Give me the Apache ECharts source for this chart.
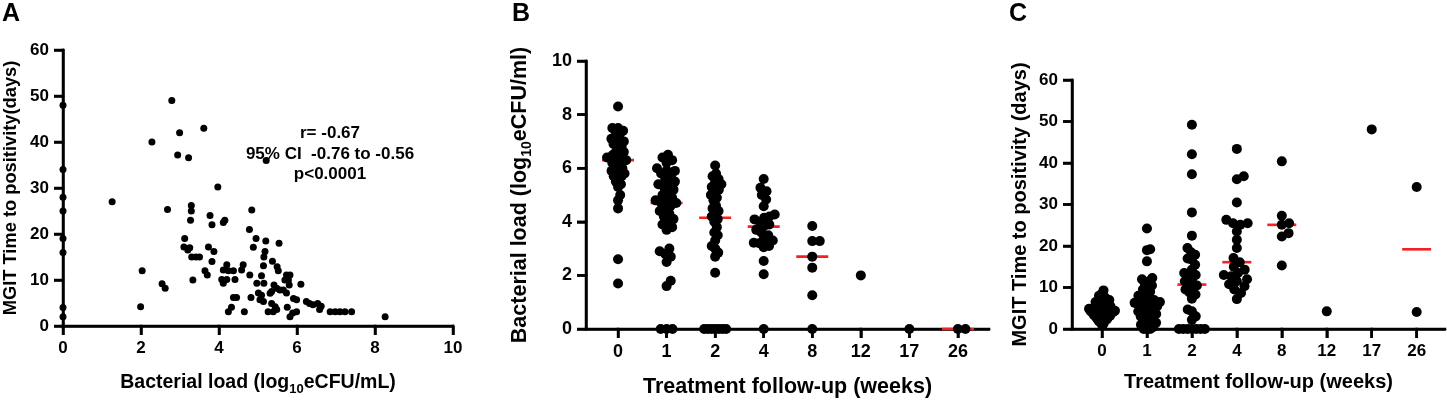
<!DOCTYPE html>
<html>
<head>
<meta charset="utf-8">
<script src="https://cdn.jsdelivr.net/npm/echarts@6/dist/echarts.min.js"></script>
<style>
  html, body { margin: 0; padding: 0; background: #fff; }
  #chart { width: 1447px; height: 403px; }
</style>
</head>
<body>
<div id="chart"></div>
<script>
// ---- data ----
const weeks = ['0', '1', '2', '4', '8', '12', '17', '26'];
const loadTicksA = [0, 2, 4, 6, 8, 10];
const loadTicksB = [0, 2, 4, 6, 8, 10];
const ttpTicks = [0, 10, 20, 30, 40, 50, 60];

// A: [bacterial load (log10 eCFU/mL), MGIT time to positivity (days)]
const loadVsTtp = [
  [0, 48], [0, 34], [0, 28], [0, 25], [0, 19], [0, 16], [0, 4], [0, 2],
  [1.26, 27], [2.79, 49], [2.28, 40], [2.99, 42], [2.94, 37.2], [3.22, 36.6], [3.61, 43], [5.21, 36],
  [3.97, 30.2], [2.68, 25.3], [3.29, 26.2], [3.29, 25], [3.27, 23], [3.77, 24], [3.82, 22], [4.11, 22.5],
  [4.15, 23], [4.84, 25.2], [3.12, 19], [3.1, 17.2], [3.2, 16.5], [3.25, 17], [3.3, 15], [3.41, 15],
  [3.5, 15], [3.73, 17.2], [3.87, 16.2], [3.82, 14], [3.64, 12], [3.7, 11.1], [3.33, 10], [2.03, 12],
  [1.99, 4.2], [2.54, 9.2], [2.62, 8.2], [4.78, 21], [4.95, 19], [4.88, 17.1], [5.2, 18.5], [5.54, 18],
  [5.18, 16.2], [5.15, 15], [5.37, 14.1], [5.49, 12.9], [5.52, 12], [5.14, 13.1], [4.2, 13.3], [4.11, 12.2],
  [4.24, 12], [4.37, 12], [4.58, 12.2], [4.62, 13.3], [4.07, 10.1], [4.2, 10.1], [4.11, 9.3], [4.41, 10.1],
  [4.79, 11.1], [5.09, 10.9], [4.97, 9.3], [5.15, 9.3], [5.73, 11.1], [5.82, 11.1], [5.69, 10], [5.78, 10],
  [5.8, 8.9], [6.1, 9.1], [5.41, 8.9], [5.48, 8.2], [5.56, 7.8], [5.35, 7.5], [5.31, 7.1], [5.01, 7.2],
  [5.09, 6.7], [5.05, 5.7], [5.14, 5.3], [5.65, 7.8], [5.73, 7.2], [4.82, 6.2], [4.37, 6.2], [4.45, 6.2],
  [4.32, 4.1], [4.24, 3.1], [4.65, 3.1], [5.35, 4.9], [5.44, 4.2], [5.48, 3.6], [5.26, 3.1], [5.39, 3.1],
  [5.75, 4.1], [5.82, 2], [5.89, 2.8], [5.99, 3.1], [5.91, 6], [5.99, 5.7], [6.24, 5.3], [6.32, 4.9],
  [6.41, 4.6], [6.53, 4.9], [6.62, 4.3], [6.58, 3.6], [6.85, 3.1], [6.98, 3.1], [7.1, 3.1], [7.23, 3.1],
  [7.4, 3.1], [8.26, 2]
];
const statLines = ['r= -0.67', '95% CI  -0.76 to -0.56', 'p<0.0001'];

// B: bacterial load per follow-up week
const loadW0 = [8.3, 7.5, 7.5, 7.4, 7.4, 7.3, 7.2, 7.1, 7.0, 7.0, 6.9, 6.9, 6.8, 6.7, 6.6, 6.6, 6.5, 6.5, 6.4, 6.4, 6.4, 6.3,
  6.3, 6.3, 6.2, 6.2, 6.1, 6.0, 6.0, 5.9, 5.9, 5.8, 5.8, 5.7, 5.7, 5.6, 5.5, 5.4, 5.3, 5.0, 4.8, 4.5, 2.6, 1.7];
const loadW1 = [6.5, 6.4, 6.3, 6.2, 6.0, 5.9, 5.9, 5.8, 5.7, 5.6, 5.5, 5.4, 5.4, 5.3, 5.2, 5.1, 5.0, 4.9, 4.8, 4.8, 4.7,
  4.7, 4.6, 4.5, 4.4, 4.3, 4.2, 4.1, 4.0, 3.9, 3.8, 3.7, 3.0, 2.9, 2.8, 2.7, 2.5, 1.8, 1.6, 0, 0, 0];
const loadW2 = [6.1, 5.8, 5.7, 5.6, 5.5, 5.4, 5.3, 5.2, 5.2, 5.0, 4.9, 4.8, 4.6, 4.5, 4.4, 4.3, 4.2, 4.1, 4.0, 3.8, 3.6,
  3.5, 3.3, 3.1, 3.0, 2.85, 2.7, 2.1, 0, 0, 0, 0, 0, 0, 0];
const loadW4 = [5.6, 5.27, 5.14, 5.0, 4.83, 4.58, 4.27, 4.2, 4.15, 4.09, 4.0, 3.9, 3.84, 3.7, 3.6, 3.5, 3.35, 3.3, 3.22,
  3.2, 3.1, 3.05, 2.54, 2.04, 0];
const loadW8 = [3.84, 3.28, 3.28, 2.7, 2.29, 1.26, 0];
const loadW12 = [2.0];
const loadW17 = [0];
const loadW26 = [0, 0];
const loadMedian = [6.3, 4.7, 4.15, 3.82, 2.7, null, null, 0];

// C: MGIT time to positivity per follow-up week
const ttpW0 = [9.3, 8.5, 8.0, 7.6, 7.2, 7.0, 6.8, 6.5, 6.3, 6.1, 6.0, 5.8, 5.6, 5.5, 5.3, 5.1, 5.0, 4.9, 4.7, 4.6, 4.5, 4.4,
  4.3, 4.3, 4.2, 4.1, 4.0, 3.9, 3.8, 3.6, 3.5, 3.4, 3.3, 3.2, 3.0, 2.9, 2.7, 2.5, 2.3, 2.1, 1.9, 1.6, 1.3, 1.0];
const ttpW1 = [24.2, 19.2, 19.0, 16.3, 12.3, 12.0, 11.5, 11.0, 10.5, 10.0, 9.5, 9.0, 8.5, 8.0, 7.5, 7.2, 7.0, 6.8, 6.5,
  6.3, 6.2, 6.0, 5.8, 5.5, 5.3, 5.0, 4.8, 4.5, 4.2, 4.0, 3.6, 3.3, 3.0, 2.7, 2.4, 2.0, 1.5, 1.0, 0.5, 0, 0, 0];
const ttpW2 = [49.2, 42.1, 37.3, 28.1, 22.5, 19.5, 18.5, 17.9, 17.0, 16.7, 15.5, 14.3, 13.5, 13.0, 12.7, 12.0, 11.5, 10.8,
  10.5, 10.0, 9.5, 8.8, 8.3, 7.3, 4.7, 4.25, 3.05, 2.2, 0, 0, 0, 0, 0, 0, 0];
const ttpW4 = [43.4, 36.8, 36.1, 30.5, 26.3, 25.5, 25.5, 25.1, 23.5, 21.5, 19.5, 17.1, 16.1, 15.0, 14.3, 13.5, 13.0,
  12.7, 12.0, 11.5, 10.8, 10.3, 9.5, 8.7, 7.2];
const ttpW8 = [40.4, 27.3, 25.5, 25.1, 23.1, 22.3, 15.3];
const ttpW12 = [4.25];
const ttpW17 = [48.1];
const ttpW26 = [34.2, 4.1];
const ttpMedian = [4.3, 6.1, 10.7, 16.1, 25.1, null, null, 19.2];

const loadByWeek = [loadW0, loadW1, loadW2, loadW4, loadW8, loadW12, loadW17, loadW26];
const ttpByWeek = [ttpW0, ttpW1, ttpW2, ttpW4, ttpW8, ttpW12, ttpW17, ttpW26];
const weekIdx = weeks.map((w, i) => i);

// ---- styling ----
const FONT = "'Liberation Sans', Arial, Helvetica, sans-serif";
const RED = '#f22222';
const AXIS_W = 2.5;
const TICK_LEN = 9;

function axisBase(fontSize) {
  return {
    axisLine: { show: true, onZero: false, lineStyle: { color: '#000', width: AXIS_W } },
    axisTick: { show: true, length: TICK_LEN, lineStyle: { color: '#000', width: AXIS_W } },
    axisLabel: { color: '#000', fontSize: fontSize, fontWeight: 'bold', fontFamily: FONT, margin: 14 },
    splitLine: { show: false }
  };
}
function nameStyle(fontSize) {
  return {
    color: '#000', fontSize: fontSize, fontWeight: 'bold', fontFamily: FONT,
    rich: {
      n: { color: '#000', fontSize: fontSize, fontWeight: 'bold', fontFamily: FONT, lineHeight: fontSize + 6 },
      s: { color: '#000', fontSize: Math.round(fontSize * 0.65), fontWeight: 'bold', fontFamily: FONT,
           verticalAlign: 'bottom', lineHeight: Math.round(fontSize * 0.65) }
    }
  };
}
function weekAxis(min, max, fontSize) {
  const a = axisBase(fontSize);
  a.axisTick.customValues = weekIdx;
  a.axisLabel.customValues = weekIdx;
  a.axisLabel.formatter = v => weeks[Math.round(v)];
  return Object.assign({ type: 'value', min: min, max: max }, a);
}
function panelTitle(text, left, top, size) {
  return { text: text, left: left, top: top, padding: 0,
    textStyle: { color: '#000', fontSize: size, fontWeight: 'bold', fontFamily: FONT } };
}

const chart = echarts.init(document.getElementById('chart'));

chart.setOption({
  animation: false,
  backgroundColor: '#fff',
  title: [
    panelTitle('A', 2, 2, 25),
    panelTitle('B', 512, 2, 25),
    panelTitle('C', 1009, 2, 25)
  ].concat(statLines.map((t, i) => Object.assign(panelTitle(t, 330, 125 + i * 20.5, 17), { textAlign: 'center' }))),
  grid: [
    { left: 63, top: 50, width: 390, height: 276 },
    { left: 586, top: 61, width: 403, height: 269 },
    { left: 1072, top: 80, width: 373, height: 249 }
  ],
  xAxis: [
    Object.assign({ type: 'value', gridIndex: 0, min: 0, max: 10, interval: 2,
      name: '{n|Bacterial load (log}{s|10}{n|eCFU/mL)}', nameLocation: 'middle', nameGap: 44,
      nameTextStyle: nameStyle(19.5) }, axisBase(17)),
    Object.assign(weekAxis(-0.66, 7.64, 18), { gridIndex: 1,
      name: 'Treatment follow-up (weeks)', nameLocation: 'middle', nameGap: 47,
      nameTextStyle: nameStyle(21.5) }),
    Object.assign(weekAxis(-0.667, 7.63, 17), { gridIndex: 2,
      name: 'Treatment follow-up (weeks)', nameLocation: 'middle', nameGap: 43,
      nameTextStyle: nameStyle(20) })
  ],
  yAxis: [
    Object.assign({ type: 'value', gridIndex: 0, min: 0, max: 60, interval: 10,
      name: 'MGIT Time to positivity(days)', nameLocation: 'middle', nameGap: 43,
      nameTextStyle: nameStyle(18.3) }, axisBase(17)),
    Object.assign({ type: 'value', gridIndex: 1, min: 0, max: 10, interval: 2,
      name: '{n|Bacterial load (log}{s|10}{n|eCFU/ml)}', nameLocation: 'middle', nameGap: 52,
      nameTextStyle: nameStyle(21.5) }, axisBase(18)),
    Object.assign({ type: 'value', gridIndex: 2, min: 0, max: 60, interval: 10,
      name: 'MGIT Time to positivity (days)', nameLocation: 'middle', nameGap: 42,
      nameTextStyle: nameStyle(20) }, axisBase(17))
  ],
  series: []
});

// beeswarm spread of each week group, done in the pixel space of that grid
function swarm(groups, gridIndex, diam, maxHalf) {
  const p0 = chart.convertToPixel({ gridIndex: gridIndex }, [0, 0]);
  const p1 = chart.convertToPixel({ gridIndex: gridIndex }, [1, 1]);
  const pxX = p1[0] - p0[0];
  const pxY = p0[1] - p1[1];
  const out = [];
  groups.forEach((vals, gi) => {
    const order = vals.map((v, i) => i).sort((a, b) => vals[a] - vals[b]);
    const placed = [];
    const off = new Array(vals.length);
    order.forEach(i => {
      const y = vals[i] * pxY;
      const near = placed.filter(p => Math.abs(p.y - y) < diam);
      const cands = [0];
      near.forEach(p => {
        const dx = Math.sqrt(diam * diam - (p.y - y) * (p.y - y));
        cands.push(p.x + dx, p.x - dx);
      });
      cands.sort((a, b) => Math.abs(a) - Math.abs(b));
      const x = cands.find(c => near.every(p => (p.x - c) * (p.x - c) + (p.y - y) * (p.y - y) >= diam * diam - 1e-6));
      placed.push({ x: x, y: y });
      off[i] = x;
    });
    const widest = Math.max.apply(null, off.map(Math.abs));
    const k = widest > maxHalf ? maxHalf / widest : 1;
    vals.forEach((v, i) => out.push([gi + off[i] * k / pxX, v]));
  });
  return out;
}
function medianPoints(meds) {
  return meds.map((m, i) => m === null ? null : [i, m]).filter(d => d !== null);
}

// axis lines and outward ticks as thin bars placed through each grid's own scale
function axisBars() {
  const axes = [
    { g: 0, xr: [0, 10], yr: [0, 60], xt: loadTicksA, yt: ttpTicks },
    { g: 1, xr: [-0.66, 7.64], yr: [0, 10], xt: weekIdx, yt: loadTicksB },
    { g: 2, xr: [-0.667, 7.63], yr: [0, 60], xt: weekIdx, yt: ttpTicks }
  ];
  const els = [];
  const h = AXIS_W / 2;
  const bar = (x1, y1, x2, y2) => els.push({ type: 'rect', silent: true, z: 1,
    shape: { x: Math.min(x1, x2) - h, y: Math.min(y1, y2) - h,
             width: Math.abs(x2 - x1) + AXIS_W, height: Math.abs(y2 - y1) + AXIS_W },
    style: { fill: '#000' } });
  axes.forEach(a => {
    const g = { gridIndex: a.g };
    const o = chart.convertToPixel(g, [a.xr[0], a.yr[0]]);
    const e = chart.convertToPixel(g, [a.xr[1], a.yr[1]]);
    bar(o[0], o[1], e[0], o[1]);
    bar(o[0], o[1], o[0], e[1]);
    a.xt.forEach(t => { const p = chart.convertToPixel(g, [t, a.yr[0]]); bar(p[0], o[1], p[0], o[1] + TICK_LEN - h); });
    a.yt.forEach(t => { const p = chart.convertToPixel(g, [a.xr[0], t]); bar(o[0] - TICK_LEN + h, p[1], o[0], p[1]); });
  });
  return els;
}

// series order gives the layering: red medians under the black dots
chart.setOption({
  graphic: axisBars(),
  series: [
    { type: 'scatter', xAxisIndex: 0, yAxisIndex: 0, data: loadVsTtp, symbolSize: 7,
      itemStyle: { color: '#000', opacity: 1 } },
    { type: 'scatter', xAxisIndex: 1, yAxisIndex: 1, data: medianPoints(loadMedian), symbol: 'rect',
      symbolSize: [32, 2.6], itemStyle: { color: RED, opacity: 1 }, silent: true },
    { type: 'scatter', xAxisIndex: 1, yAxisIndex: 1, data: swarm(loadByWeek, 1, 7.5, 11), symbolSize: 10,
      itemStyle: { color: '#000', opacity: 1 } },
    { type: 'scatter', xAxisIndex: 2, yAxisIndex: 2, data: medianPoints(ttpMedian), symbol: 'rect',
      symbolSize: [29, 2.6], itemStyle: { color: RED, opacity: 1 }, silent: true },
    { type: 'scatter', xAxisIndex: 2, yAxisIndex: 2, data: swarm(ttpByWeek, 2, 7.5, 13), symbolSize: 10,
      itemStyle: { color: '#000', opacity: 1 } }
  ]
});
</script>
</body>
</html>
